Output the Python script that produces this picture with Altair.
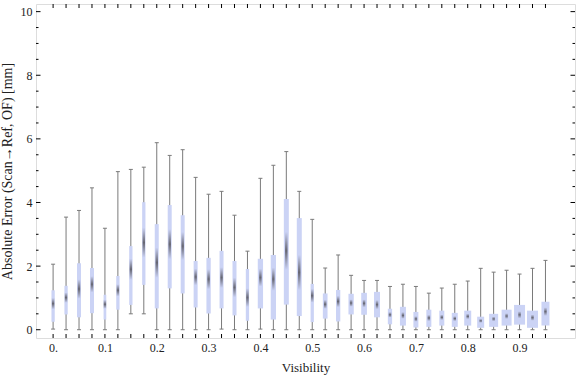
import altair as alt
import numpy as np
import pandas as pd

visibility = [0.000, 0.025, 0.050, 0.075, 0.100, 0.125, 0.150, 0.175, 0.200, 0.225,
              0.250, 0.275, 0.300, 0.325, 0.350, 0.375, 0.400, 0.425, 0.450, 0.475,
              0.500, 0.525, 0.550, 0.575, 0.600, 0.625, 0.650, 0.675, 0.700, 0.725,
              0.750, 0.775, 0.800, 0.825, 0.850, 0.875, 0.900, 0.925, 0.950]
whisker_hi = [2.06, 3.54, 3.75, 4.46, 3.19, 4.97, 5.04, 5.11, 5.88, 5.48,
              5.66, 4.79, 4.26, 4.35, 3.60, 2.47, 4.76, 5.17, 5.60, 4.35,
              3.47, 1.94, 2.35, 1.71, 1.55, 1.55, 1.36, 1.43, 1.36, 1.15,
              1.31, 1.43, 1.53, 1.93, 1.81, 1.87, 1.75, 1.93, 2.18]
q3 = [1.24, 1.38, 2.09, 1.94, 1.10, 1.69, 2.63, 4.01, 3.32, 3.92,
      3.60, 2.16, 2.26, 2.48, 2.16, 1.91, 2.23, 2.35, 4.11, 3.51,
      1.44, 1.14, 1.25, 1.13, 1.16, 1.19, 0.66, 0.72, 0.56, 0.63,
      0.60, 0.53, 0.60, 0.41, 0.50, 0.63, 0.78, 0.60, 0.88]
median = [0.82, 1.01, 1.28, 1.43, 0.80, 1.24, 1.90, 2.74, 2.11, 2.69,
          2.63, 1.66, 1.59, 1.64, 1.33, 1.01, 1.64, 1.59, 2.48, 1.80,
          1.07, 0.80, 0.89, 0.84, 0.83, 0.79, 0.47, 0.45, 0.34, 0.37,
          0.39, 0.35, 0.42, 0.28, 0.34, 0.43, 0.47, 0.38, 0.57]
q1 = [0.25, 0.48, 0.39, 0.52, 0.32, 0.63, 0.78, 1.41, 0.67, 1.30,
      1.14, 0.70, 0.51, 0.67, 0.45, 0.28, 0.67, 0.32, 0.79, 0.43,
      0.24, 0.35, 0.26, 0.48, 0.47, 0.39, 0.17, 0.13, 0.07, 0.09,
      0.13, 0.09, 0.13, 0.06, 0.09, 0.13, 0.16, 0.06, 0.13]
whisker_lo = [0.02, 0.00, 0.00, 0.00, 0.00, 0.00, 0.50, 0.50, 0.00, 0.00,
              0.00, 0.00, 0.00, 0.02, 0.00, 0.00, 0.02, 0.00, 0.00, 0.00,
              0.00, 0.00, 0.00, 0.00, 0.00, 0.00, 0.00, 0.00, 0.00, 0.00,
              0.00, 0.00, 0.00, 0.00, 0.00, 0.00, 0.00, 0.00, 0.00]
# relative sample weight of each bin (drives box width)
box_weight = [3.3, 3.3, 4.0, 4.0, 2.7, 3.3, 3.3, 3.3, 4.0, 4.0,
              4.0, 4.0, 4.3, 4.0, 4.0, 3.3, 5.3, 5.3, 5.0, 5.0,
              3.3, 4.7, 4.3, 5.3, 5.7, 6.0, 4.3, 6.0, 5.0, 5.0,
              5.0, 6.0, 7.0, 7.0, 9.0, 10.0, 11.0, 11.0, 8.0]

x_labels = [0.0, 0.1, 0.2, 0.3, 0.4, 0.5, 0.6, 0.7, 0.8, 0.9]
y_labels = [0, 2, 4, 6, 8, 10]

df = pd.DataFrame({"v": visibility, "hi": whisker_hi, "q3": q3, "med": median,
                   "q1": q1, "lo": whisker_lo, "w": box_weight})
iqr = df["q3"] - df["q1"]
half = np.maximum(0.18 * iqr, 0.06)
df["m_lo"] = df["med"] - half
df["m_hi"] = df["med"] + half

BOX = "#cbd3f5"
GRAY = "#7a7a7a"
FONT = "Liberation Serif"
TXT = "#222222"

W, H = 539, 334
xs = alt.Scale(domain=[-0.033, 1.007], nice=False, zero=False, padding=0)
ys = alt.Scale(domain=[-0.26, 10.24], nice=False, zero=False, padding=0)

X = alt.X("v:Q", scale=xs,
          axis=alt.Axis(values=x_labels, title="Visibility", ticks=False, domain=False, grid=False,
                        labelExpr="datum.value == 0 ? '0.' : format(datum.value, '.1f')",
                        labelFont=FONT, labelFontSize=12, labelColor=TXT, labelPadding=4,
                        titleFont=FONT, titleFontSize=13, titleFontWeight="normal",
                        titleColor=TXT, titlePadding=8))

base = alt.Chart(df)

whisk = base.mark_rule(color=GRAY, strokeWidth=1).encode(
    x=X,
    y=alt.Y("lo:Q", scale=ys,
            axis=alt.Axis(values=y_labels, title="Absolute Error (Scan\u2192Ref, OF) [mm]",
                          ticks=False, domain=False, grid=False, format="d",
                          labelFont=FONT, labelFontSize=12, labelColor=TXT, labelPadding=4,
                          titleFont=FONT, titleFontSize=14, titleFontWeight="normal",
                          titleColor=TXT, titlePadding=6)),
    y2="hi:Q")

cap_hi = base.mark_rule(color=GRAY, strokeWidth=1, xOffset=-2, x2Offset=2).encode(
    x=alt.X("v:Q", scale=xs), x2="v:Q", y=alt.Y("hi:Q", scale=ys))
cap_lo = base.mark_rule(color=GRAY, strokeWidth=1, xOffset=-2, x2Offset=2).encode(
    x=alt.X("v:Q", scale=xs), x2="v:Q", y=alt.Y("lo:Q", scale=ys))

boxes = base.mark_bar(color=BOX).encode(
    x=alt.X("v:Q", scale=xs),
    y=alt.Y("q1:Q", scale=ys), y2="q3:Q",
    size=alt.Size("w:Q", scale=alt.Scale(domain=[0, 11], range=[0, 11]), legend=None))

grad = alt.LinearGradient(gradient="linear",
                          stops=[alt.GradientStop(offset=0, color=BOX),
                                 alt.GradientStop(offset=0.5, color="#666672"),
                                 alt.GradientStop(offset=1, color=BOX)],
                          x1=0, x2=0, y1=0, y2=1)
med = base.mark_bar(color=grad, size=2.5).encode(
    x=alt.X("v:Q", scale=xs), y=alt.Y("m_lo:Q", scale=ys), y2="m_hi:Q")

# inward frame ticks
xt = pd.DataFrame({"v": visibility})
bt = alt.Chart(xt).mark_rule(color="black").encode(
    x=alt.X("v:Q", scale=xs), y=alt.value(H), y2=alt.value(H - 4))
tt = alt.Chart(xt).mark_rule(color="black").encode(
    x=alt.X("v:Q", scale=xs), y=alt.value(0), y2=alt.value(4))

yt_vals = np.arange(0, 10.01, 0.5)
yt = pd.DataFrame({"y": yt_vals, "major": [float(v) % 2 == 0 for v in yt_vals]})
maj = alt.Chart(yt).transform_filter("datum.major")
mnr = alt.Chart(yt).transform_filter("!datum.major")
lt_maj = maj.mark_rule(color="black").encode(y=alt.Y("y:Q", scale=ys), x=alt.value(0), x2=alt.value(4.5))
lt_min = mnr.mark_rule(color="black").encode(y=alt.Y("y:Q", scale=ys), x=alt.value(0), x2=alt.value(2.5))
rt_maj = maj.mark_rule(color="black").encode(y=alt.Y("y:Q", scale=ys), x=alt.value(W), x2=alt.value(W - 4.5))
rt_min = mnr.mark_rule(color="black").encode(y=alt.Y("y:Q", scale=ys), x=alt.value(W), x2=alt.value(W - 2.5))

chart = alt.layer(whisk, cap_hi, cap_lo, boxes, med, bt, tt, lt_maj, lt_min, rt_maj, rt_min).properties(
    width=W, height=H,
    autosize=alt.AutoSizeParams(type="none"),
    padding={"left": 36, "top": 4, "right": 1, "bottom": 39},
).configure_view(stroke="black", strokeWidth=1).configure(background="white")

chart.save("out.html", embed_options={"renderer": "svg", "actions": False})
